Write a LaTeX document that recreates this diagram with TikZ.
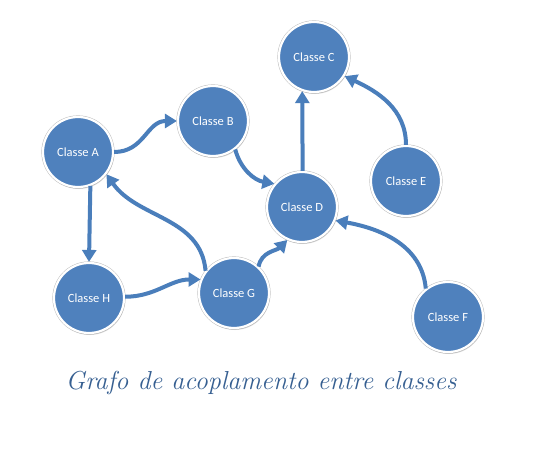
\documentclass[tikz,border=0pt]{standalone}
\usepackage{fontspec}
\setmainfont{Carlito}
\usetikzlibrary{arrows.meta,shadows}
\definecolor{nodeblue}{HTML}{4F81BD}
\definecolor{arrowblue}{HTML}{4A7EBB}
\definecolor{captionblue}{HTML}{365F91}
\newfontfamily\capfont{Latin Modern Roman}
\begin{document}
\begin{tikzpicture}[x=1pt,y=-1pt,
  cls/.style={circle,fill=nodeblue,draw=white,line width=2.2pt,minimum size=70pt,inner sep=0pt,
    text=white,font=\fontsize{12.5}{14}\selectfont,
    preaction={draw=black!25,line width=3.2pt},
    drop shadow={opacity=0.25,shadow xshift=1pt,shadow yshift=-2pt}},
  link/.style={draw=arrowblue,line width=4pt,-{Triangle[length=12pt,width=14pt]}}]
\useasboundingbox (0,0) rectangle (550,450);
\node[cls] (A) at (78,152) {Classe A};
\node[cls] (B) at (213,121) {Classe B};
\node[cls] (C) at (314,57) {Classe C};
\node[cls] (D) at (302,207) {Classe D};
\node[cls] (E) at (406,181) {Classe E};
\node[cls] (F) at (448,317) {Classe F};
\node[cls] (G) at (234,293) {Classe G};
\node[cls] (H) at (89,298) {Classe H};
\path[link] (A.0) to[out=0,in=180,looseness=1.1] (B.180);
\path[link] (B.-52) to[out=-75,in=170] (D.140);
\path[link] (D.89) -- (C.251);
\path[link] (E.90) to[out=90,in=-25] (C.-32);
\path[link] (F.128) to[out=95,in=-10] (D.-22);
\path[link] (G.142) to[out=95,in=-55] (A.-38);
\path[link] (A.-70) -- (H.90);
\path[link] (H.2) to[out=0,in=180] (G.158);
\path[link] (G.47) to[out=80,in=225] (D.-114);
\node[text=captionblue,font=\capfont\itshape\fontsize{26}{30}\selectfont] (cap) at (261,383) {Grafo de acoplamento entre classes};
\end{tikzpicture}
\end{document}
